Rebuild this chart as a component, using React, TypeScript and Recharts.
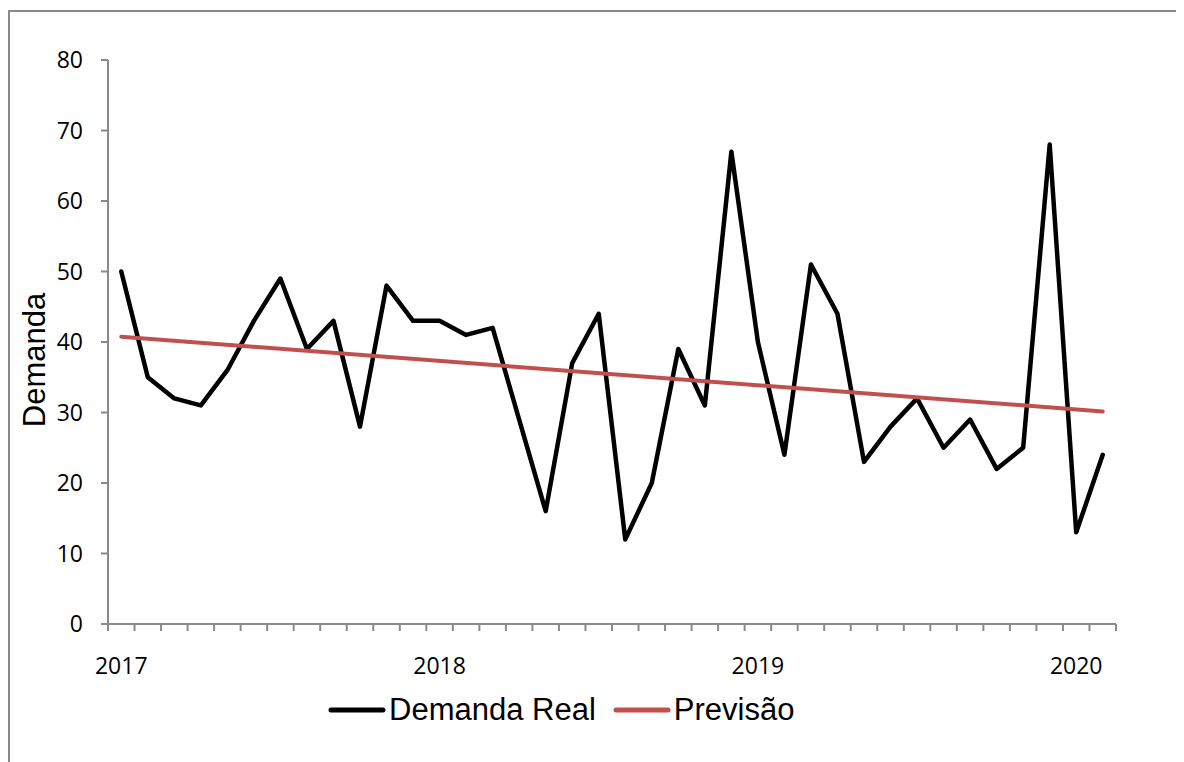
import { LineChart, Line, XAxis, YAxis, Label } from "recharts";

// meses da série (jan/2017 a fev/2020)
const meses = [
  "2017-01", "2017-02", "2017-03", "2017-04", "2017-05", "2017-06",
  "2017-07", "2017-08", "2017-09", "2017-10", "2017-11", "2017-12",
  "2018-01", "2018-02", "2018-03", "2018-04", "2018-05", "2018-06",
  "2018-07", "2018-08", "2018-09", "2018-10", "2018-11", "2018-12",
  "2019-01", "2019-02", "2019-03", "2019-04", "2019-05", "2019-06",
  "2019-07", "2019-08", "2019-09", "2019-10", "2019-11", "2019-12",
  "2020-01", "2020-02",
];

const demandaReal = [
  50, 35, 32, 31, 36, 43, 49, 39, 43, 28, 48, 43,
  43, 41, 42, 29, 16, 37, 44, 12, 20, 39, 31, 67,
  40, 24, 51, 44, 23, 28, 32, 25, 29, 22, 25, 68,
  13, 24,
];

// reta de tendência: só os extremos, o Recharts liga os dois
const previsaoInicio = 40.75;
const previsaoFim = 30.15;

const yTicks = [0, 10, 20, 30, 40, 50, 60, 70, 80];

const data = meses.map((mes, i) => ({
  mes,
  real: demandaReal[i],
  previsao: i === 0 ? previsaoInicio : i === meses.length - 1 ? previsaoFim : null,
}));

const W = 1176;
const H = 754;
const PLOT_LEFT = 100;
const PLOT_RIGHT = 1108;
const BAND = (PLOT_RIGHT - PLOT_LEFT) / meses.length;
const AXIS = "#898989";
const TICK_FONT = "'Open Sans', sans-serif";
const TEXT_FONT = "'Liberation Sans', Arial, sans-serif";

function XTick(props: any) {
  const { x, y, payload, index } = props;
  const half = BAND / 2;
  const v: string = payload.value;
  const ano = v.endsWith("-01") ? v.slice(0, 4) : "";
  return (
    <g>
      <line x1={x - half} x2={x - half} y1={y} y2={y + 7} stroke={AXIS} strokeWidth={2} />
      {index === meses.length - 1 && (
        <line x1={x + half} x2={x + half} y1={y} y2={y + 7} stroke={AXIS} strokeWidth={2} />
      )}
      {ano && (
        <text x={x} y={y + 50} textAnchor="middle" fill="#000" fontSize={23} fontFamily={TICK_FONT}>
          {ano}
        </text>
      )}
    </g>
  );
}

function LegendItem({ color, label }: { color: string; label: string }) {
  return (
    <div style={{ display: "flex", alignItems: "center" }}>
      <svg width={58} height={10}>
        <line x1={3} x2={55} y1={5} y2={5} stroke={color} strokeWidth={5} strokeLinecap="round" />
      </svg>
      <span style={{ marginLeft: 3, fontSize: 31, fontFamily: TEXT_FONT, color: "#000", lineHeight: "40px" }}>
        {label}
      </span>
    </div>
  );
}

export default function App() {
  return (
    <div style={{ position: "relative", width: W, height: H, background: "#fff" }}>
      <div
        style={{
          position: "absolute",
          left: 0,
          top: 2,
          width: W,
          height: H - 2,
          boxSizing: "border-box",
          borderLeft: `2px solid ${AXIS}`,
          borderTop: `2px solid ${AXIS}`,
        }}
      />
      <div style={{ position: "absolute", left: 0, top: 0 }}>
        <LineChart
          width={W}
          height={H}
          data={data}
          margin={{ top: 52, right: W - PLOT_RIGHT, left: 0, bottom: 98 }}
        >
          <XAxis
            dataKey="mes"
            interval={0}
            height={40}
            padding={{ left: BAND / 2, right: BAND / 2 }}
            axisLine={{ stroke: AXIS, strokeWidth: 2 }}
            tickLine={false}
            tickSize={0}
            tickMargin={0}
            tick={<XTick />}
          />
          <YAxis
            width={PLOT_LEFT}
            domain={[0, 80]}
            ticks={yTicks}
            interval={0}
            axisLine={{ stroke: AXIS, strokeWidth: 2 }}
            tickLine={{ stroke: AXIS, strokeWidth: 2 }}
            tickSize={7}
            tickMargin={18}
            tick={{ fill: "#000", fontSize: 23, fontFamily: TICK_FONT }}
          >
            <Label
              content={() => (
                <text
                  x={37}
                  y={352}
                  transform="rotate(-90 37 352)"
                  textAnchor="middle"
                  fill="#000"
                  fontSize={31}
                  fontFamily={TEXT_FONT}
                >
                  Demanda
                </text>
              )}
            />
          </YAxis>
          <Line
            dataKey="real"
            name="Demanda Real"
            stroke="#000"
            strokeWidth={4.5}
            strokeLinejoin="round"
            strokeLinecap="round"
            dot={false}
            activeDot={false}
            isAnimationActive={false}
          />
          <Line
            dataKey="previsao"
            name="Previsão"
            stroke="#C0504D"
            strokeWidth={4}
            strokeLinecap="round"
            connectNulls
            dot={false}
            activeDot={false}
            isAnimationActive={false}
          />
        </LineChart>
      </div>
      <div style={{ position: "absolute", left: 320, top: 682, display: "flex", alignItems: "center" }}>
        <LegendItem color="#000" label="Demanda Real" />
        <div style={{ width: 17 }} />
        <LegendItem color="#C0504D" label="Previsão" />
      </div>
    </div>
  );
}
